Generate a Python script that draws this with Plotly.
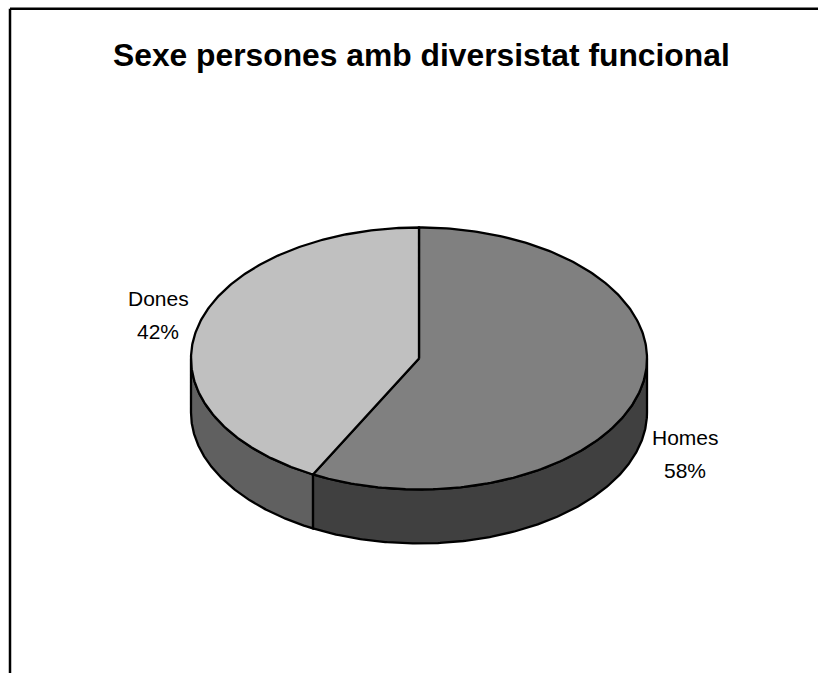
import numpy as np
import plotly.graph_objects as go

categories = ["Homes", "Dones"]
values = [57.7, 42.3]
top_colors = ["#808080", "#c0c0c0"]
side_colors = ["#404040", "#606060"]
title_text = "Sexe persones amb diversistat funcional"
label_pos = [(685, 437, 470), (158, 298, 331)]

W, H = 818, 673
CX, CY, RX, RY, DEPTH = 419, 358.5, 228, 131, 54
LW = 2.3


def rim(a0, a1, dy=0.0):
    t = np.radians(np.linspace(a0, a1, 240))
    return CX + RX * np.sin(t), CY - RY * np.cos(t) + dy


fig = go.Figure()
fracs = np.array(values) / sum(values) * 360
starts = np.concatenate([[0], np.cumsum(fracs)[:-1]])

# extruded side walls (only the front half of the rim is visible)
for a0, f, col in zip(starts, fracs, side_colors):
    lo, hi = max(a0, 90), min(a0 + f, 270)
    if hi <= lo:
        continue
    x1, y1 = rim(lo, hi)
    x2, y2 = rim(hi, lo, DEPTH)
    fig.add_trace(go.Scatter(
        x=np.r_[x1, x2, x1[0]], y=np.r_[y1, y2, y1[0]],
        mode="lines", fill="toself", fillcolor=col,
        line=dict(color="black", width=LW), hoverinfo="skip", showlegend=False))

# top faces
for name, a0, f, col in zip(categories, starts, fracs, top_colors):
    x, y = rim(a0, a0 + f)
    fig.add_trace(go.Scatter(
        x=np.r_[CX, x, CX], y=np.r_[CY, y, CY],
        mode="lines", fill="toself", fillcolor=col, name=name,
        line=dict(color="black", width=LW), hoverinfo="skip", showlegend=False))

for name, v, (lx, ly1, ly2) in zip(categories, values, label_pos):
    for txt, ly in ((name, ly1), (f"{v:.0f}%", ly2)):
        fig.add_annotation(x=lx, y=ly, text=txt, showarrow=False,
                           font=dict(family="Liberation Sans", size=21, color="#000000"),
                           xanchor="center", yanchor="middle", align="center")

fig.add_annotation(x=421, y=55, text=f"<b>{title_text}</b>", showarrow=False,
                   font=dict(family="Liberation Sans", size=31.8, color="#000000"),
                   xanchor="center", yanchor="middle")

fig.add_shape(type="line", x0=10, x1=818, y0=8.8, y1=8.8, line=dict(color="black", width=2.5))
fig.add_shape(type="line", x0=10, x1=10, y0=8.8, y1=673, line=dict(color="black", width=2.5))

fig.update_layout(
    width=W, height=H, margin=dict(l=0, r=0, t=0, b=0),
    paper_bgcolor="white", plot_bgcolor="white", showlegend=False,
    xaxis=dict(range=[0, W], visible=False, fixedrange=True),
    yaxis=dict(range=[H, 0], visible=False, fixedrange=True),
)
fig.write_html("out.html", config={"displayModeBar": False},
               post_script="document.body.style.margin='0';document.body.style.overflow='hidden';")
